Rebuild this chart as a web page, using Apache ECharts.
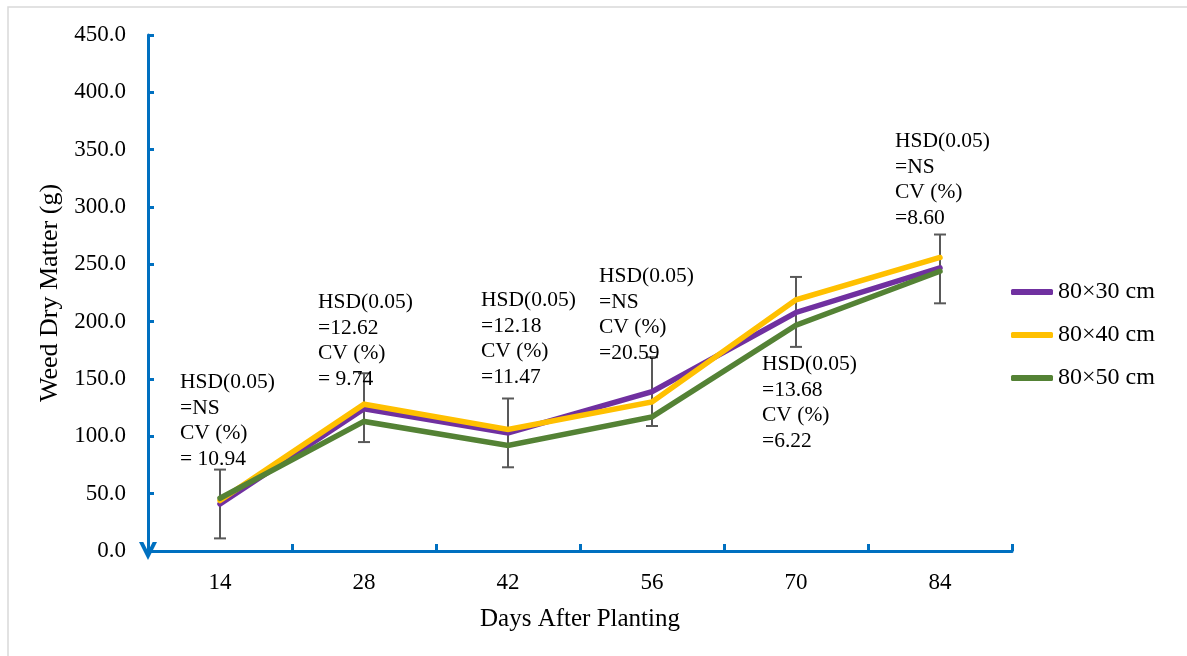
<!DOCTYPE html>
<html>
<head>
<meta charset="utf-8">
<script src="https://cdn.jsdelivr.net/npm/echarts@6/dist/echarts.min.js"></script>
<style>html,body{margin:0;padding:0;background:#fff}#c{width:1187px;height:656px}</style>
</head>
<body>
<div id="c"></div>
<script>
const categories = ['14', '28', '42', '56', '70', '84'];
const s80x30 = [41, 124, 103, 139, 208, 247];
const s80x40 = [44, 128, 106, 130, 219, 256];
const s80x50 = [46, 113, 92, 117, 197, 244];
const errLow = [11, 95, 73, 109, 178, 216];
const errHigh = [71, 155, 133, 169, 239, 276];
const seriesNames = ['80×30 cm', '80×40 cm', '80×50 cm'];
const notes = [
  ['HSD(0.05)', '=NS', 'CV (%)', '= 10.94'],
  ['HSD(0.05)', '=12.62', 'CV (%)', '= 9.74'],
  ['HSD(0.05)', '=12.18', 'CV (%)', '=11.47'],
  ['HSD(0.05)', '=NS', 'CV (%)', '=20.59'],
  ['HSD(0.05)', '=13.68', 'CV (%)', '=6.22'],
  ['HSD(0.05)', '=NS', 'CV (%)', '=8.60']
];
const yTicks = { min: 0, max: 450, interval: 50 };

const FONT = '"Liberation Serif", "DejaVu Serif", serif';
const BLUE = '#0070C0';
const chart = echarts.init(document.getElementById('c'), null, { renderer: 'canvas' });

const notePos = [[180, 370], [318, 290], [481, 288], [599, 264], [762, 352], [895, 129]];

const graphics = [
  { type: 'rect', shape: { x: 8, y: 7, width: 1200, height: 700 }, style: { fill: 'none', stroke: '#d9d9d9', lineWidth: 1.5 }, silent: true, z: -10 }
];
notes.forEach((lines, i) => {
  graphics.push({
    type: 'text', left: notePos[i][0], top: notePos[i][1], z: 5,
    style: { text: lines.join('\n'), font: '21.5px ' + FONT, fill: '#000', lineHeight: 25.5 }
  });
});

const lineSeries = [s80x30, s80x40, s80x50].map((d, i) => ({
  name: seriesNames[i], type: 'line', data: d, symbol: 'none',
  lineStyle: { width: 5.5, color: ['#7030A0', '#FFC000', '#548235'][i], cap: 'round', join: 'miter' },
  itemStyle: { color: ['#7030A0', '#FFC000', '#548235'][i] },
  z: 3 + i
}));

const errSeries = {
  type: 'custom', name: 'err', z: 2,
  data: categories.map((c, i) => [i, errLow[i], errHigh[i]]),
  renderItem: function (params, api) {
    const lo = api.coord([api.value(0), api.value(1)]);
    const hi = api.coord([api.value(0), api.value(2)]);
    const w = 6;
    const st = { stroke: '#595959', lineWidth: 2, fill: 'none' };
    return {
      type: 'group', children: [
        { type: 'line', shape: { x1: hi[0], y1: hi[1], x2: lo[0], y2: lo[1] }, style: st },
        { type: 'line', shape: { x1: hi[0] - w, y1: hi[1], x2: hi[0] + w, y2: hi[1] }, style: st },
        { type: 'line', shape: { x1: lo[0] - w, y1: lo[1], x2: lo[0] + w, y2: lo[1] }, style: st }
      ]
    };
  },
  encode: { x: 0, y: [1, 2] }
};

chart.setOption({
  backgroundColor: '#fff',
  animation: false,
  grid: { left: 148, right: 175, top: 35, bottom: 105, containLabel: false },
  legend: {
    data: seriesNames, orient: 'vertical', left: 1006, top: 275, itemGap: 19,
    itemWidth: 42, itemHeight: 6, icon: 'roundRect',
    textStyle: { fontFamily: FONT, fontSize: 24, color: '#000' }
  },
  xAxis: {
    type: 'category', data: categories, boundaryGap: true,
    name: 'Days After Planting', nameLocation: 'middle', nameGap: 56,
    nameTextStyle: { fontFamily: FONT, fontSize: 25, color: '#000' },
    axisLine: { lineStyle: { color: BLUE, width: 3 } },
    axisTick: { show: true, interval: 0, alignWithLabel: false, inside: true, length: 7, lineStyle: { color: BLUE, width: 3 } },
    axisLabel: { fontFamily: FONT, fontSize: 23, color: '#000', margin: 20, interval: 0 }
  },
  yAxis: {
    type: 'value', min: yTicks.min, max: yTicks.max, interval: yTicks.interval,
    name: 'Weed Dry Matter (g)', nameLocation: 'middle', nameGap: 82,
    nameTextStyle: { fontFamily: FONT, fontSize: 26, color: '#000' },
    axisLine: {
      show: true, lineStyle: { color: BLUE, width: 3 },
      symbol: ['path://M0,10 L5,0 L10,10 L7.6,10 L5,4.8 L2.4,10 Z', 'none'],
      symbolSize: [20, 18], symbolOffset: [0, 7]
    },
    axisTick: { show: true, inside: true, length: 6, lineStyle: { color: BLUE, width: 3 } },
    splitLine: { show: false },
    axisLabel: { fontFamily: FONT, fontSize: 23, color: '#000', margin: 22, formatter: v => v.toFixed(1) }
  },
  series: [errSeries].concat(lineSeries),
  graphic: graphics
});
</script>
</body>
</html>
